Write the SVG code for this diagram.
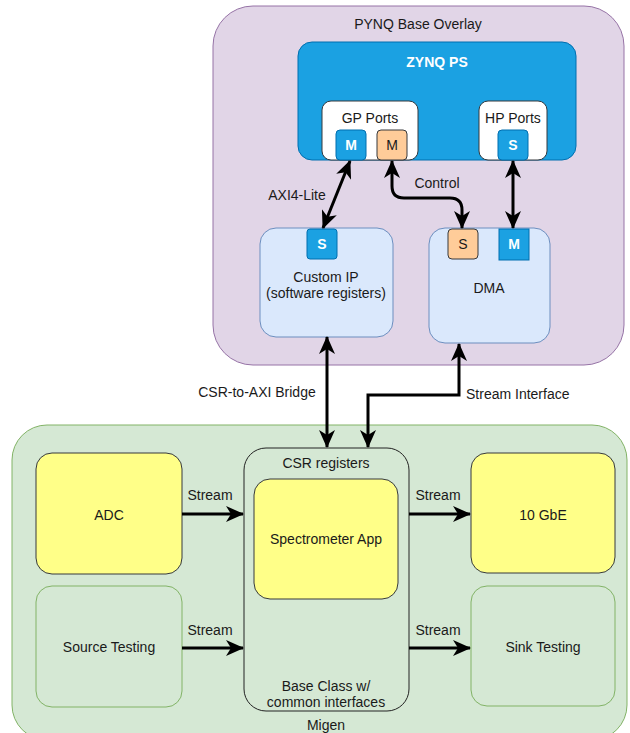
<svg xmlns="http://www.w3.org/2000/svg" width="630" height="733" viewBox="0 0 630 733">
<style>
text{font-family:"Liberation Sans",Arial,Helvetica,sans-serif;font-size:14px;fill:#1a1a1a;text-anchor:middle}
.w{fill:#fff;font-weight:bold}
.l{text-anchor:start}
.purple{fill:#E1D5E7;stroke:#9673A6;stroke-width:1}
.zynq{fill:#1BA1E2;stroke:#006EAF;stroke-width:1}
.white{fill:#fff;stroke:#36393D;stroke-width:1}
.port{fill:#1BA1E2;stroke:#006EAF;stroke-width:1}
.orange{fill:#FFCC99;stroke:#36393D;stroke-width:1}
.lblue{fill:#DAE8FC;stroke:#6C8EBF;stroke-width:1}
.green{fill:#D5E8D4;stroke:#82B366;stroke-width:1}
.yellow{fill:#FFFF88;stroke:#36393D;stroke-width:1}
.csr{fill:#D5E8D4;stroke:#222;stroke-width:1}
.c{fill:none;stroke:#000;stroke-width:3}
.e{marker-end:url(#ah)}
.b{marker-start:url(#ah);marker-end:url(#ah)}
</style>
<defs>
<marker id="ah" viewBox="0 0 18 16" refX="17" refY="8" markerWidth="18" markerHeight="16" markerUnits="userSpaceOnUse" orient="auto-start-reverse">
<path d="M0,0 L18,8 L0,16 L5,8 z" fill="#000"/>
</marker>
</defs>
<g id="pynq-overlay">
<rect class="purple" x="213" y="6" width="411" height="359" rx="40"/>
<text x="418" y="29">PYNQ Base Overlay</text>
</g>
<g id="zynq-ps">
<rect class="zynq" x="298" y="42" width="278" height="118" rx="14"/>
<text class="w" x="437" y="67">ZYNQ PS</text>
</g>
<g id="gp-ports">
<rect class="white" x="322" y="101" width="96" height="59" rx="9"/>
<text x="370" y="123">GP Ports</text>
</g>
<g id="gp-m1">
<rect class="port" x="336" y="130" width="30" height="30" rx="4"/>
<text class="w" x="351" y="150">M</text>
</g>
<g id="gp-m2">
<rect class="orange" x="377" y="130" width="30" height="30" rx="4"/>
<text x="392" y="150">M</text>
</g>
<g id="hp-ports">
<rect class="white" x="479" y="101" width="68" height="59" rx="9"/>
<text x="513" y="123">HP Ports</text>
</g>
<g id="hp-s">
<rect class="port" x="498" y="130" width="30" height="30" rx="4"/>
<text class="w" x="513" y="150">S</text>
</g>
<g id="custom-ip">
<rect class="lblue" x="260" y="228" width="133" height="109" rx="16"/>
<text x="326" y="282">Custom IP</text>
<text x="326" y="298">(software registers)</text>
</g>
<g id="custom-ip-s">
<rect class="port" x="307" y="229" width="30" height="30" rx="3"/>
<text class="w" x="322" y="249">S</text>
</g>
<g id="dma">
<rect class="lblue" x="429" y="228" width="121" height="115" rx="16"/>
<text x="489" y="293">DMA</text>
</g>
<g id="dma-s">
<rect class="orange" x="448" y="229" width="30" height="30" rx="4"/>
<text x="463" y="249">S</text>
</g>
<g id="dma-m">
<rect class="port" x="499" y="229" width="30" height="31"/>
<text class="w" x="514" y="249">M</text>
</g>
<g id="migen">
<rect class="green" x="12" y="425" width="615" height="315" rx="35"/>
<text x="326" y="730">Migen</text>
</g>
<g id="adc">
<rect class="yellow" x="36" y="453" width="146" height="121" rx="16"/>
<text x="109" y="520">ADC</text>
</g>
<g id="source-testing">
<rect class="green" x="36" y="586" width="146" height="121" rx="16"/>
<text x="109" y="652">Source Testing</text>
</g>
<g id="csr-registers">
<rect class="csr" x="244" y="448" width="165" height="263" rx="22"/>
<text x="326" y="468">CSR registers</text>
<text x="326" y="691">Base Class w/</text>
<text x="326" y="707">common interfaces</text>
</g>
<g id="spectrometer-app">
<rect class="yellow" x="254" y="479" width="144" height="120" rx="16"/>
<text x="326" y="544">Spectrometer App</text>
</g>
<g id="tengbe">
<rect class="yellow" x="471" y="453" width="144" height="120" rx="16"/>
<text x="543" y="520">10 GbE</text>
</g>
<g id="sink-testing">
<rect class="green" x="471" y="586" width="144" height="120" rx="16"/>
<text x="543" y="652">Sink Testing</text>
</g>
<g id="connectors">
<path class="c b" d="M350,161 L323,228"/>
<path class="c b" d="M392,161 L392,186 Q392,198 404,198 L450,198 Q462,198 462,210 L462,228"/>
<path class="c b" d="M513,161 L513,228"/>
<path class="c b" d="M327,337 L327,447"/>
<path class="c b" d="M459,344 L459,395 L368,395 L368,447"/>
<path class="c e" d="M182,514 L243,514"/>
<path class="c e" d="M182,648 L243,648"/>
<path class="c e" d="M409,514 L470,514"/>
<path class="c e" d="M409,648 L470,648"/>
<text x="297" y="200">AXI4-Lite</text>
<text x="437" y="188">Control</text>
<text x="257" y="397">CSR-to-AXI Bridge</text>
<text class="l" x="466" y="399">Stream Interface</text>
<text x="210" y="500">Stream</text>
<text x="210" y="635">Stream</text>
<text x="438" y="500">Stream</text>
<text x="438" y="635">Stream</text>
</g>
</svg>
